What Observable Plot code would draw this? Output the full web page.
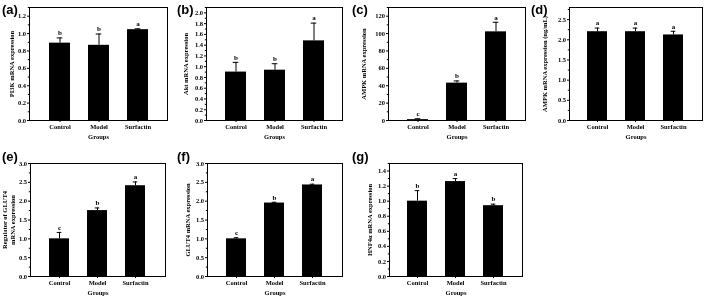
<!DOCTYPE html>
<html>
<head>
<meta charset="utf-8">
<script src="https://cdn.jsdelivr.net/npm/d3@7"></script>
<script src="https://cdn.jsdelivr.net/npm/@observablehq/plot@0.6"></script>
<style>
  html, body { margin: 0; padding: 0; background: #fff; }
  #wrap { position: relative; width: 709px; height: 297px; overflow: hidden; background: #fff; }
  .panel { position: absolute; will-change: transform; }
  .tag { position: absolute; font-family: "Liberation Sans", Arial, sans-serif; font-weight: bold; font-size: 13px; color: #000; line-height: 1; }
</style>
</head>
<body>
<div id="wrap"></div>
<script>
// ---- data ----
const groups = ["Control", "Model", "Surfactin"];

const pi3kMean = [0.89, 0.865, 1.045];
const pi3kErr = [0.06, 0.13, 0.01];
const pi3kLetters = ["b", "b", "a"];

const aktMean = [0.90, 0.935, 1.48];
const aktErr = [0.18, 0.12, 0.33];
const aktLetters = ["b", "b", "a"];

const ampkMean = [1.0, 43, 102];
const ampkErr = [1.0, 2.5, 11];
const ampkLetters = ["c", "b", "a"];

const ampkNgMean = [2.20, 2.20, 2.12];
const ampkNgErr = [0.09, 0.09, 0.09];
const ampkNgLetters = ["a", "a", "a"];

const regGlut4Mean = [1.00, 1.75, 2.41];
const regGlut4Err = [0.17, 0.07, 0.10];
const regGlut4Letters = ["c", "b", "a"];

const glut4Mean = [1.00, 1.95, 2.43];
const glut4Err = [0.03, 0.02, 0.02];
const glut4Letters = ["c", "b", "a"];

const hnfMean = [1.00, 1.26, 0.94];
const hnfErr = [0.14, 0.04, 0.02];
const hnfLetters = ["b", "a", "b"];

// y tick labels
const ticksA = [0, 0.2, 0.4, 0.6, 0.8, 1.0, 1.2];
const ticksB = [0, 0.2, 0.4, 0.6, 0.8, 1.0, 1.2, 1.4, 1.6, 1.8, 2.0];
const ticksC = [0, 20, 40, 60, 80, 100, 120];
const ticksD = [0, 0.5, 1.0, 1.5, 2.0, 2.5];
const ticksE = [0, 0.5, 1.0, 1.5, 2.0, 2.5, 3.0];
const ticksF = [0, 0.5, 1.0, 1.5, 2.0, 2.5, 3.0];
const ticksG = [0, 0.2, 0.4, 0.6, 0.8, 1.0, 1.2, 1.4];

// ---- layout ----
const panels = [
  {tag: "(a)", tx: 2, ty: 3, fx0: 29, fx1: 167, row: 0, mean: pi3kMean, err: pi3kErr, letters: pi3kLetters, ymax: 1.3, ticks: ticksA, minor: 0.1, fmt: ".1f", label: "PI3K mRNA expression", ldx: 18},
  {tag: "(b)", tx: 177, ty: 3, fx0: 206, fx1: 342, row: 0, mean: aktMean, err: aktErr, letters: aktLetters, ymax: 2.1, ticks: ticksB, minor: 0.1, fmt: ".1f", label: "Akt mRNA expression", ldx: 21},
  {tag: "(c)", tx: 352, ty: 3, fx0: 388, fx1: 525, row: 0, mean: ampkMean, err: ampkErr, letters: ampkLetters, ymax: 130, ticks: ticksC, minor: 10, fmt: "d", label: "AMPK mRNA expression", ldx: 25},
  {tag: "(d)", tx: 531, ty: 3, fx0: 569, fx1: 702, row: 0, mean: ampkNgMean, err: ampkNgErr, letters: ampkNgLetters, ymax: 2.8, ticks: ticksD, minor: 0.25, fmt: ".1f", label: "AMPK mRNA expression (ng/mL)", ldx: 25},
  {tag: "(e)", tx: 2, ty: 150, fx0: 30, fx1: 165, row: 1, mean: regGlut4Mean, err: regGlut4Err, letters: regGlut4Letters, ymax: 3.0, ticks: ticksE, minor: 0.25, fmt: ".1f", label: "Regulator of GLUT4\nmRNA expression", ldx: 22},
  {tag: "(f)", tx: 177, ty: 150, fx0: 207, fx1: 342, row: 1, mean: glut4Mean, err: glut4Err, letters: glut4Letters, ymax: 3.0, ticks: ticksF, minor: 0.25, fmt: ".1f", label: "GLUT4 mRNA expression", ldx: 20},
  {tag: "(g)", tx: 352, ty: 150, fx0: 389, fx1: 522, row: 1, mean: hnfMean, err: hnfErr, letters: hnfLetters, ymax: 1.5, ticks: ticksG, minor: 0.1, fmt: ".1f", label: "HNF4\u03b1 mRNA expression", ldx: 20}
];

const rows = [
  {top: 0, h: 145, fy0: 7, fy1: 120},
  {top: 145, h: 152, fy0: 163, fy1: 276}
];

const wrap = document.getElementById("wrap");
const ML = 32, MR = 4;

for (const p of panels) {
  const r = rows[p.row];
  const data = groups.map((g, i) => ({g, v: p.mean[i], hi: p.mean[i] + p.err[i], t: p.letters[i]}));
  const width = p.fx1 - p.fx0 + ML + MR;
  const mt = r.fy0 - r.top;
  const mb = r.top + r.h - r.fy1;
  const minorTicks = d3.range(0, p.ymax + 1e-9, p.minor).filter(v => !p.ticks.some(t => Math.abs(t - v) < 1e-9));
  const chart = Plot.plot({
    width, height: r.h,
    marginLeft: ML, marginRight: MR, marginTop: mt, marginBottom: mb,
    style: {fontFamily: "'Liberation Serif', 'Times New Roman', serif", fontSize: "6.5px", fontWeight: "bold", color: "black", background: "transparent"},
    x: {domain: groups, padding: 0.47, align: 0.5},
    y: {domain: [0, p.ymax]},
    marks: [
      Plot.barY(data, {x: "g", y: "v", fill: "black"}),
      Plot.ruleX(data, {x: "g", y1: "v", y2: "hi", stroke: "black", strokeWidth: 1}),
      Plot.tickY(data, {x: "g", y: "hi", stroke: "black", strokeWidth: 1, insetLeft: 7.7, insetRight: 7.7}),
      Plot.text(data, {x: "g", y: "hi", text: "t", dy: -5, fontSize: 7, fill: "black"}),
      Plot.axisY(p.ticks, {tickSize: 2, tickPadding: 1.5, tickFormat: d3.format(p.fmt), label: null}),
      Plot.axisY(minorTicks, {tickSize: 1.2, tickFormat: () => "", label: null}),
      Plot.axisX({tickSize: 2, tickPadding: 2, label: null}),
      Plot.frame({stroke: "black", strokeWidth: 1}),
      Plot.text([p.label], {frameAnchor: "left", dx: -p.ldx, rotate: -90, textAnchor: "middle", lineAnchor: "middle", fontSize: 6.5, fill: "black", lineHeight: 1.25}),
      Plot.text(["Groups"], {frameAnchor: "bottom", dy: 18, fontSize: 6.5, fill: "black"})
    ]
  });
  const div = document.createElement("div");
  div.className = "panel";
  div.style.left = (p.fx0 - ML) + "px";
  div.style.top = r.top + "px";
  div.appendChild(chart);
  wrap.appendChild(div);
  const tag = document.createElement("div");
  tag.className = "tag";
  tag.textContent = p.tag;
  tag.style.left = p.tx + "px";
  tag.style.top = p.ty + "px";
  wrap.appendChild(tag);
}
</script>
</body>
</html>
